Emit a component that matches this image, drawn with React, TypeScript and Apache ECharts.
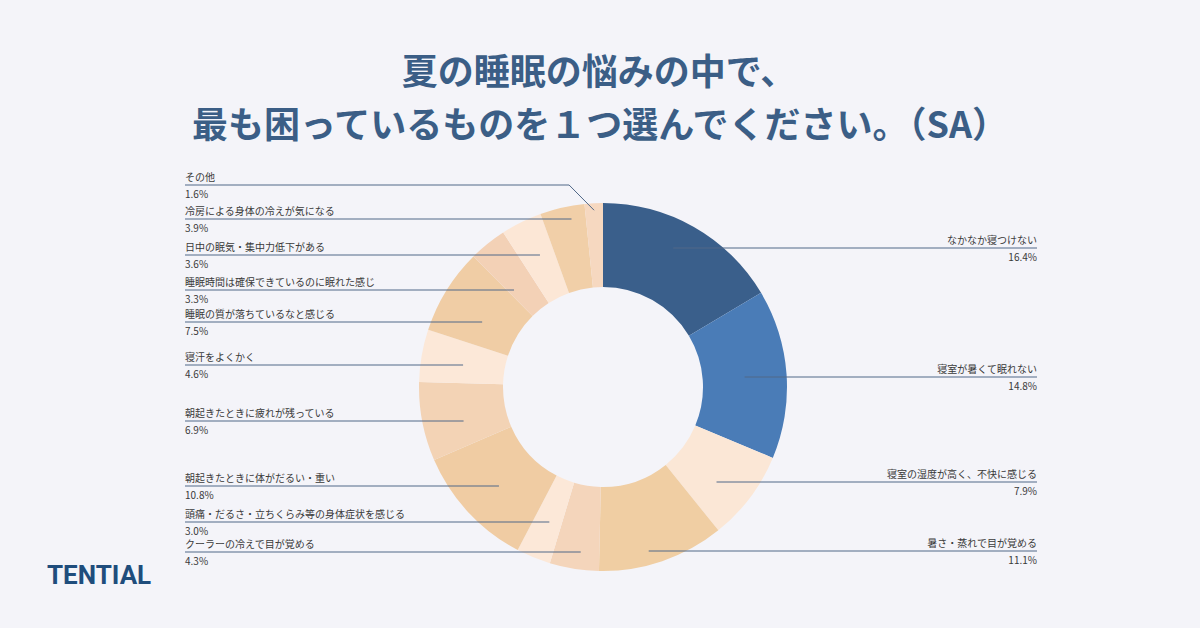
import React, { useEffect, useRef } from "react";
import * as echarts from "echarts";

const categories = [
  "なかなか寝つけない",
  "寝室が暑くて眠れない",
  "寝室の湿度が高く、不快に感じる",
  "暑さ・蒸れで目が覚める",
  "クーラーの冷えで目が覚める",
  "頭痛・だるさ・立ちくらみ等の身体症状を感じる",
  "朝起きたときに体がだるい・重い",
  "朝起きたときに疲れが残っている",
  "寝汗をよくかく",
  "睡眠の質が落ちているなと感じる",
  "睡眠時間は確保できているのに眠れた感じ",
  "日中の眠気・集中力低下がある",
  "冷房による身体の冷えが気になる",
  "その他",
];
const values = [16.4, 14.8, 7.9, 11.1, 4.3, 3.0, 10.8, 6.9, 4.6, 7.5, 3.3, 3.6, 3.9, 1.6];

const sliceColors = [
  "#3a5f8b", "#4a7cb7", "#fbe7d6", "#f0cea3", "#f4d5bb", "#fce8d8", "#f0cca3",
  "#f3d3b5", "#fce8d8", "#f0cda5", "#f3d1b6", "#fce7d6", "#f1cfa8", "#f6d8c0",
];

// label layout (positions only)
const labelSide = ["right", "right", "right", "right", "left", "left", "left", "left", "left", "left", "left", "left", "left", "left"];
const labelLineY = [248, 377, 482, 551, 552, 522, 486, 421, 365, 322, 290, 255, 219, 185];

const FONT = '"Noto Sans CJK JP", "Noto Sans", sans-serif';
const CX = 603;
const CY = 387;
const R0 = 100;
const R1 = 184;
const RM = (R0 + R1) / 2;
const LEFT_X = 185;
const RIGHT_X = 1037;

export default function App() {
  const ref = useRef<HTMLDivElement>(null);
  useEffect(() => {
    if (!ref.current) return;
    const chart = echarts.init(ref.current, null, { renderer: "svg" });
    const total = values.reduce((a, b) => a + b, 0);
    const cum: number[] = [];
    let acc = 0;
    values.forEach((v) => {
      cum.push(acc);
      acc += v;
    });
    const midPoint = (i: number, r: number) => {
      const th = ((cum[i] + values[i] / 2) / total) * Math.PI * 2;
      return [CX + r * Math.sin(th), CY - r * Math.cos(th)];
    };
    const titleStyle = {
      fill: "#3b5e86",
      fontSize: 36,
      fontWeight: "bold",
      fontFamily: FONT,
      align: "center",
      verticalAlign: "middle",
    };

    chart.setOption({
      animation: false,
      backgroundColor: "#f4f4f9",
      graphic: [
        { type: "text", x: 599, y: 69, style: { ...titleStyle, text: "夏の睡眠の悩みの中で、" } },
        {
          type: "text",
          x: 600,
          y: 122,
          style: { ...titleStyle, text: "最も困っているものを１つ選んでください。（SA）" },
        },
        {
          type: "text",
          x: 47,
          y: 575,
          style: {
            text: "TENTIAL",
            fill: "#1f4d7c",
            fontSize: 26,
            fontWeight: "bold",
            fontFamily: "Roboto, sans-serif",
            align: "left",
            verticalAlign: "middle",
          },
        },
      ],
      series: [
        {
          type: "pie",
          z: 2,
          center: [CX, CY],
          radius: [R0, R1],
          startAngle: 90,
          clockwise: true,
          silent: true,
          data: categories.map((name, i) => ({
            name,
            value: values[i],
            itemStyle: { color: sliceColors[i] },
          })),
          label: { show: false },
          labelLine: { show: false },
        },
        {
          type: "pie",
          z: 5,
          center: [CX, CY],
          radius: [R0, R1],
          startAngle: 90,
          clockwise: true,
          silent: true,
          avoidLabelOverlap: false,
          itemStyle: { color: "rgba(0,0,0,0)" },
          data: categories.map((name, i) => ({ name, value: values[i] })),
          label: {
            show: true,
            position: "outside",
            formatter: (p: any) => `{n|${p.name}}\n{p|${Number(p.value).toFixed(1)}%}`,
            rich: {
              n: { fontSize: 10, color: "#3a3a3a", fontFamily: FONT, lineHeight: 17 },
              p: { fontSize: 10, color: "#3a3a3a", fontFamily: FONT, lineHeight: 17 },
            },
          },
          labelLine: {
            show: true,
            lineStyle: { color: "#506888", width: 1 },
          },
          emphasis: { disabled: true },
          labelLayout: (params: any) => {
            const i = params.dataIndex;
            const ly = labelLineY[i];
            const isLeft = labelSide[i] === "left";
            const edge = isLeft ? LEFT_X : RIGHT_X;
            let pts: number[][];
            if (i === categories.length - 1) {
              const p = midPoint(i, R1 - 7);
              pts = [[p[0], p[1]], [p[0] - 25, ly], [edge, ly]];
            } else {
              const p = midPoint(i, RM);
              pts = [[p[0], ly], [p[0], ly], [edge, ly]];
            }
            return {
              x: edge,
              y: ly,
              align: isLeft ? "left" : "right",
              verticalAlign: "middle",
              labelLinePoints: pts,
            };
          },
        },
      ],
    });
    return () => chart.dispose();
  }, []);
  return (
    <div
      ref={ref}
      style={{ position: "absolute", left: 0, top: 0, width: 1200, height: 628 }}
    />
  );
}
